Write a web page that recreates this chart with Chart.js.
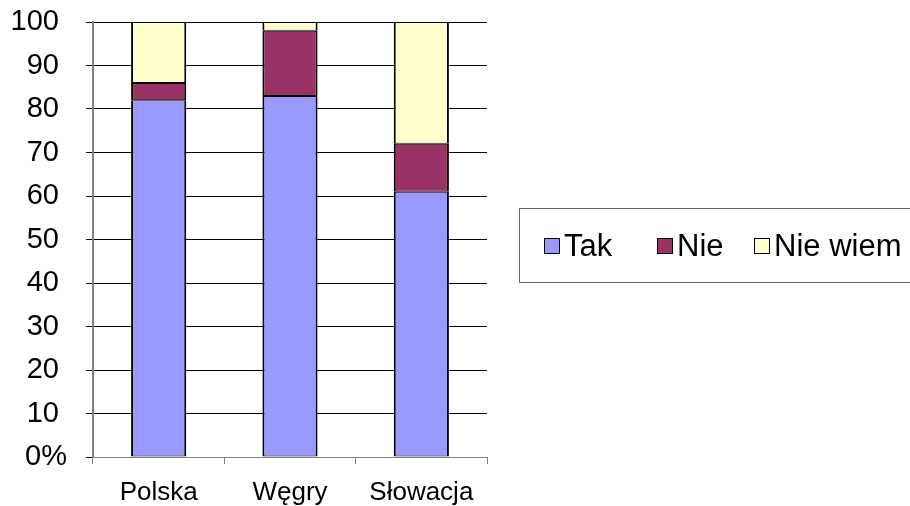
<!DOCTYPE html>
<html>
<head>
<meta charset="utf-8">
<script src="https://cdn.jsdelivr.net/npm/chart.js@4"></script>
<style>
  body { margin: 0; background: #fff; }
  #wrap { position: relative; width: 910px; height: 506px; }
  #legend {
    position: absolute; left: 519px; top: 208px; width: 400px; height: 75px;
    border: 1px solid #666; box-sizing: border-box;
    font-family: "Liberation Sans", Arial, sans-serif; font-size: 31px; color: #000;
    display: flex; align-items: center; padding-left: 24px; white-space: nowrap;
  }
  #legend .item { display: flex; align-items: center; }
  #legend .item:nth-child(1) { width: 113px; }
  #legend .item:nth-child(2) { width: 97px; }
  #legend .box { width: 14px; height: 14px; border: 1px solid #000; margin-right: 4px; }
</style>
</head>
<body>
<div id="wrap">
  <canvas id="chart" width="910" height="506"></canvas>
  <div id="legend"></div>
</div>
<script>
const categories = ['Polska', 'Węgry', 'Słowacja'];
const tak = [82, 83, 61];
const nie = [4, 15, 11];
const nieWiem = [14, 2, 28];
const yTicks = [0, 10, 20, 30, 40, 50, 60, 70, 80, 90, 100];

const family = '"Liberation Sans", Arial, sans-serif';

function ds(label, data, color) {
  return {
    label: label,
    data: data,
    backgroundColor: color,
    borderColor: '#000',
    borderWidth: { top: 1, bottom: 1, left: 2, right: 2 },
    borderSkipped: false,
    barPercentage: 0.42,
    categoryPercentage: 1
  };
}

const chart = new Chart(document.getElementById('chart').getContext('2d'), {
  type: 'bar',
  data: {
    labels: categories,
    datasets: [
      ds('Tak', tak, '#9999FF'),
      ds('Nie', nie, '#993366'),
      ds('Nie wiem', nieWiem, '#FFFFCC')
    ]
  },
  options: {
    responsive: false,
    animation: false,
    layout: { padding: { top: 22, right: 423, left: 0, bottom: 0 } },
    plugins: { legend: { display: false }, tooltip: { enabled: false } },
    scales: {
      x: {
        stacked: true,
        grid: { offset: true, drawOnChartArea: false, tickLength: 7, color: '#808080', lineWidth: 1 },
        border: { color: '#808080', width: 1 },
        ticks: { font: { family: family, size: 26 }, color: '#000', padding: 13 },
        afterFit: s => { s.height = 49; s.paddingLeft = 0; s.paddingRight = 0; }
      },
      y: {
        stacked: true,
        min: 0, max: 100,
        afterBuildTicks: s => { s.ticks = yTicks.map(v => ({ value: v })); },
        grid: { color: '#000', lineWidth: 1, tickLength: 7 },
        border: { color: '#808080', width: 2 },
        ticks: {
          font: { family: family, size: 29 }, color: '#000', padding: 19,
          callback: v => v === 0 ? '0%' : v + ' '
        },
        afterFit: s => { s.width = 93; s.paddingTop = 0; s.paddingBottom = 0; }
      }
    }
  }
});

// legend in the box on the right
const legend = document.getElementById('legend');
chart.data.datasets.forEach(d => {
  const item = document.createElement('div');
  item.className = 'item';
  item.innerHTML = '<span class="box" style="background:' + d.backgroundColor + '"></span><span>' + d.label + '</span>';
  legend.appendChild(item);
});
</script>
</body>
</html>
